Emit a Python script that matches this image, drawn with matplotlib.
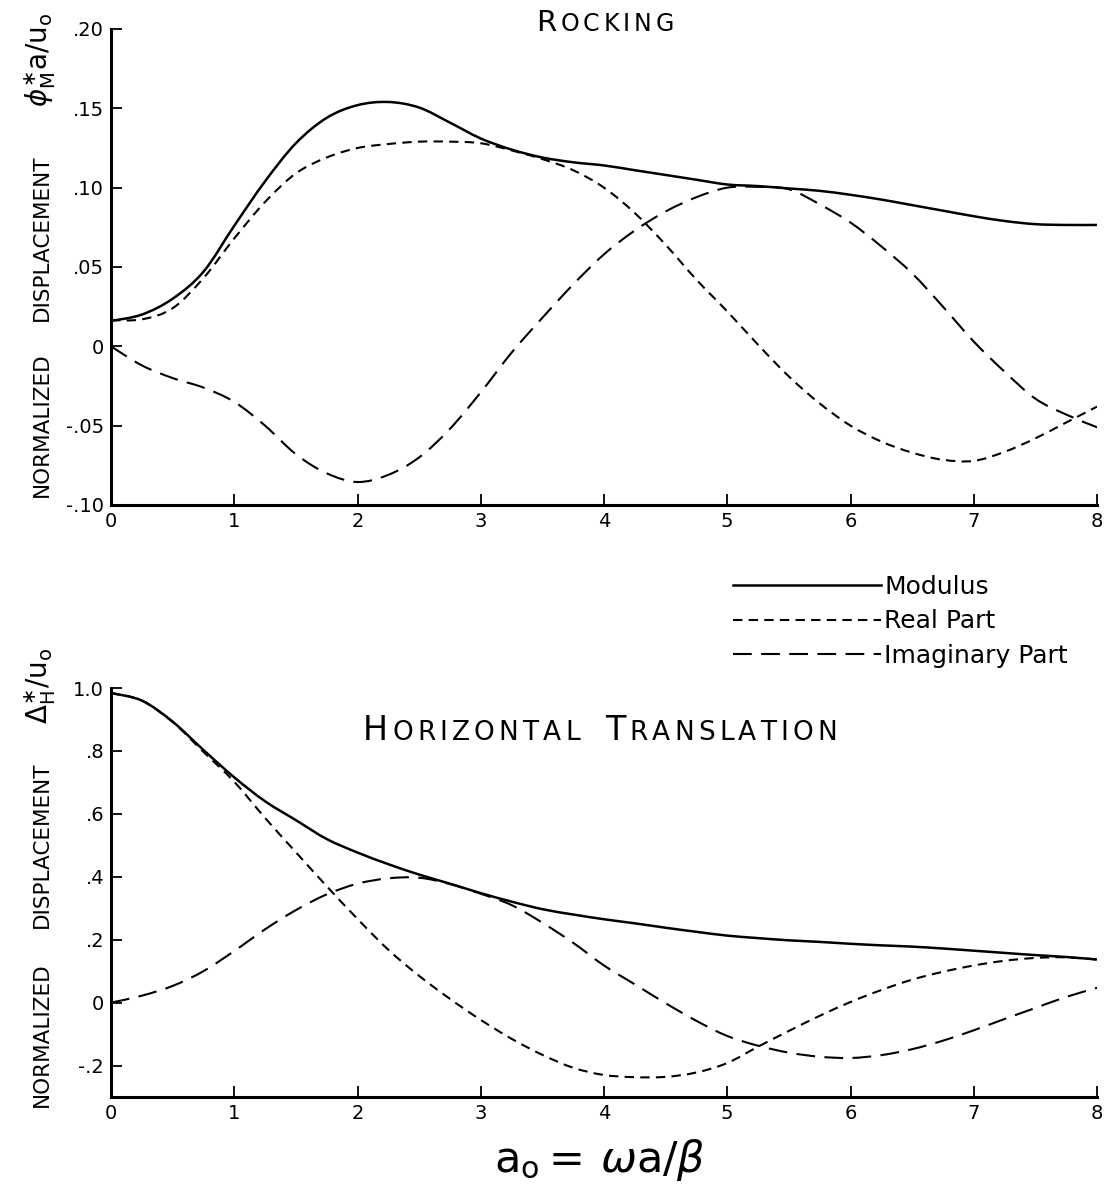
import numpy as np
import matplotlib
matplotlib.use("Agg")
import matplotlib.pyplot as plt
from matplotlib.path import Path
from matplotlib.patches import PathPatch
from matplotlib.lines import Line2D
from matplotlib.offsetbox import TextArea, HPacker, AnchoredOffsetbox

plt.rcParams['font.family'] = ['DejaVu Sans']
plt.rcParams['mathtext.fontset'] = 'dejavusans'

# dimensionless frequency a_o
a0 = np.arange(0, 8.01, 0.25)

# rocking response
rock_mod = [0.016, 0.020, 0.030, 0.047, 0.076, 0.104, 0.128, 0.144, 0.152,
            0.154, 0.1505, 0.141, 0.131, 0.124, 0.119, 0.116, 0.114, 0.111,
            0.108, 0.105, 0.102, 0.101, 0.0995, 0.098, 0.0955, 0.0925, 0.089,
            0.0855, 0.082, 0.079, 0.077, 0.0765, 0.0765]
rock_re = [0.0165, 0.017, 0.024, 0.043, 0.068, 0.091, 0.109, 0.119, 0.125,
           0.1275, 0.129, 0.129, 0.128, 0.1235, 0.118, 0.111, 0.100, 0.084,
           0.064, 0.042, 0.022, 0.001, -0.019, -0.036, -0.050, -0.060, -0.067,
           -0.0715, -0.0722, -0.0665, -0.058, -0.048, -0.038]
rock_im = [0.0, -0.012, -0.020, -0.026, -0.035, -0.050, -0.068, -0.080, -0.0855,
           -0.081, -0.070, -0.052, -0.029, -0.004, 0.018, 0.039, 0.058, 0.073,
           0.085, 0.094, 0.100, 0.1005, 0.099, 0.0895, 0.078, 0.063, 0.046,
           0.025, 0.003, -0.016, -0.033, -0.043, -0.051]

# horizontal translation response
hor_mod = [0.984, 0.960, 0.893, 0.803, 0.716, 0.640, 0.580, 0.520, 0.477,
           0.440, 0.407, 0.378, 0.348, 0.321, 0.297, 0.280, 0.265, 0.252,
           0.238, 0.225, 0.213, 0.205, 0.198, 0.193, 0.187, 0.182, 0.178,
           0.172, 0.165, 0.158, 0.151, 0.145, 0.137]
hor_re = [0.984, 0.960, 0.892, 0.797, 0.702, 0.587, 0.478, 0.370, 0.266,
          0.168, 0.085, 0.012, -0.055, -0.115, -0.166, -0.207, -0.230, -0.237,
          -0.236, -0.222, -0.192, -0.140, -0.090, -0.042, 0.002, 0.040, 0.073,
          0.098, 0.118, 0.133, 0.142, 0.144, 0.137]
hor_im = [0.0, 0.022, 0.053, 0.100, 0.164, 0.233, 0.294, 0.344, 0.378,
          0.395, 0.397, 0.377, 0.346, 0.310, 0.254, 0.190, 0.118, 0.058,
          -0.002, -0.058, -0.106, -0.137, -0.159, -0.172, -0.176, -0.167,
          -0.148, -0.121, -0.088, -0.052, -0.017, 0.018, 0.047]

rock_ticks = [-0.10, -0.05, 0, 0.05, 0.10, 0.15, 0.20]
rock_labels = ['-.10', '-.05', '0', '.05', '.10', '.15', '.20']
hor_ticks = [-0.2, 0, 0.2, 0.4, 0.6, 0.8, 1.0]
hor_labels = ['-.2', '0', '.2', '.4', '.6', '.8', '1.0']

W, H = 1110, 1186
fig = plt.figure(figsize=(W / 100, H / 100), dpi=100)
ax1 = fig.add_axes([111 / W, 1 - 505 / H, 986 / W, 476 / H])
ax2 = fig.add_axes([111 / W, 1 - 1097 / H, 986 / W, 409 / H])

# (line width, dash pattern) for modulus, real and imaginary parts
styles = [(1.8, None), (1.5, (4.5, 3.0)), (1.5, (9.0, 4.5))]
names = ['Modulus', 'Real Part', 'Imaginary Part']


def curve_path(x, y):
    # pass a smooth cubic curve through the sampled points
    x = np.asarray(x, float)
    y = np.asarray(y, float)
    n = len(x)
    verts = [(x[0], y[0])]
    codes = [Path.MOVETO]
    for i in range(n - 1):
        xp, yp = (x[i - 1], y[i - 1]) if i > 0 else (x[i], y[i])
        xn, yn = (x[i + 2], y[i + 2]) if i + 2 < n else (x[i + 1], y[i + 1])
        c1 = (x[i] + (x[i + 1] - xp) / 6, y[i] + (y[i + 1] - yp) / 6)
        c2 = (x[i + 1] - (xn - x[i]) / 6, y[i + 1] - (yn - y[i]) / 6)
        verts += [c1, c2, (x[i + 1], y[i + 1])]
        codes += [Path.CURVE4] * 3
    return Path(verts, codes)


def draw(ax, series):
    for ys, (lw, dash) in zip(series, styles):
        ls = '-' if dash is None else (0, dash)
        ax.add_patch(PathPatch(curve_path(a0, ys), fill=False, edgecolor='black',
                               lw=lw, linestyle=ls, capstyle='butt'))
    for s in ('top', 'right'):
        ax.spines[s].set_visible(False)
    for s in ('left', 'bottom'):
        ax.spines[s].set_linewidth(2.2)
    ax.tick_params(direction='in', length=8, width=1.3, labelsize=14, pad=5)
    ax.set_xlim(0, 8)
    ax.set_xticks(range(9))


draw(ax1, [rock_mod, rock_re, rock_im])
ax1.set_ylim(-0.10, 0.20)
ax1.set_yticks(rock_ticks, rock_labels)

draw(ax2, [hor_mod, hor_re, hor_im])
ax2.set_ylim(-0.3, 1.0)
ax2.set_yticks(hor_ticks, hor_labels)


def small_caps(words, x, y, big, small, spacing):
    parts = []
    for i, w in enumerate(words):
        if i:
            parts.append(TextArea('  ', textprops=dict(size=small)))
        parts.append(TextArea(w[0], textprops=dict(size=big)))
        for ch in w[1:]:
            parts.append(TextArea(ch, textprops=dict(size=small)))
    box = HPacker(children=parts, align='baseline', pad=0, sep=spacing)
    anchored = AnchoredOffsetbox(loc='center', child=box, pad=0, borderpad=0,
                                 frameon=False, bbox_to_anchor=(x, y),
                                 bbox_transform=fig.transFigure)
    fig.add_artist(anchored)


small_caps(['ROCKING'], 605 / W, 1 - 23 / H, 21, 17, 2.8)
small_caps(['HORIZONTAL', 'TRANSLATION'], 600 / W, 1 - 731 / H, 24, 19, 3)

# rotated axis captions, one piece per word plus the symbol
for word, yc in [('NORMALIZED', 425), ('DISPLACEMENT', 238),
                 ('NORMALIZED', 1035), ('DISPLACEMENT', 845)]:
    fig.text(42 / W, 1 - yc / H, word, rotation=90, ha='center', va='center',
             fontsize=15.5)
fig.text(40 / W, 1 - 12 / H, r'$\phi^{\ast}_{\mathrm{M}}\mathrm{a/u_{o}}$',
         rotation=90, ha='center', va='top', fontsize=20)
fig.text(40 / W, 1 - 648 / H, r'$\Delta^{\ast}_{\mathrm{H}}\mathrm{/u_{o}}$',
         rotation=90, ha='center', va='top', fontsize=20)

fig.text(600 / W, 1 - 1160 / H, r'$\mathrm{a_o}=\,\omega\mathrm{a}/\beta$',
         ha='center', va='center', fontsize=31)

handles = [Line2D([], [], color='black', lw=lw,
                  linestyle='-' if dash is None else (0, dash))
           for lw, dash in styles]
fig.legend(handles, names, loc='upper left',
           bbox_to_anchor=(733 / W, 1 - 575 / H), frameon=False, fontsize=18,
           handlelength=5.9, handletextpad=0.15, labelspacing=0.42,
           borderpad=0, borderaxespad=0)

fig.savefig('out.png', dpi=100)
